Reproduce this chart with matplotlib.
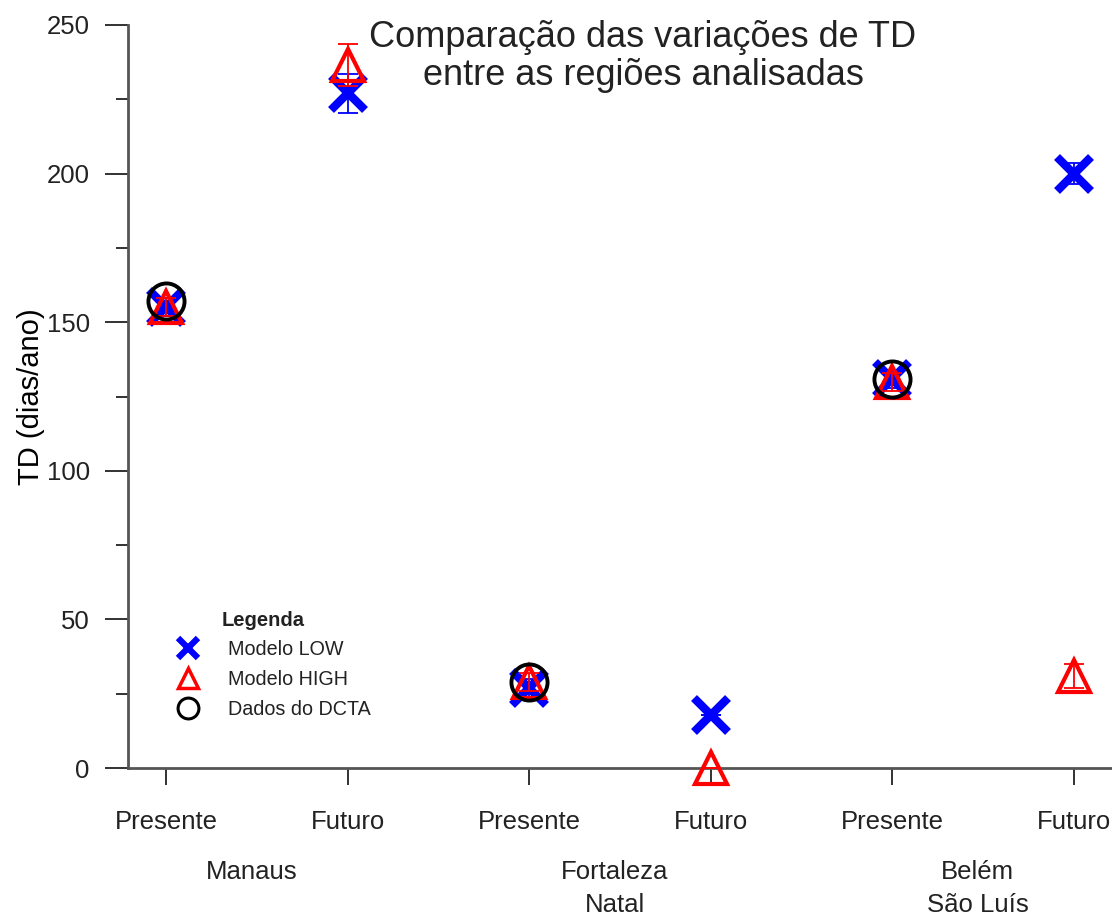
import numpy as np
import matplotlib
matplotlib.use('Agg')
import matplotlib.pyplot as plt
from matplotlib.lines import Line2D
import matplotlib.transforms as mtransforms

plt.rcParams['font.family'] = ['Liberation Sans', 'DejaVu Sans']
plt.rcParams['text.color'] = '#222222'

# dados
categorias = ['Presente', 'Futuro', 'Presente', 'Futuro', 'Presente', 'Futuro']
regioes = ['Manaus', 'Fortaleza\nNatal', 'Belém\nSão Luís']
modelo_low = [155, 227, 27, 18, 131, 200]
erro_low = [3, 6.5, 3, 0, 3, 3.5]
modelo_high = [155, 236.5, 29, 0, 130, 31]
erro_high = [3, 7, 3, 0, 3, 4]
dados_dcta = [157, np.nan, 29, np.nan, 131, np.nan]

x = np.arange(1, len(categorias) + 1)

fig = plt.figure(figsize=(11.12, 9.17), dpi=100)
ax = fig.add_axes([128/1112, 1 - 768/917, 1 - 128/1112, (768 - 25)/917])

# Modelo LOW
ax.plot(x, modelo_low, linestyle='none', marker='x', ms=24, mew=6,
        color='#0000ff', clip_on=False, zorder=3)
ax.errorbar(x, modelo_low, yerr=erro_low, fmt='none', ecolor='#0000ff',
            elinewidth=1.3, capsize=7, capthick=1.3, zorder=4)

# Modelo HIGH
ax.plot(x, modelo_high, linestyle='none', marker='^', ms=23, mew=3,
        color='#ff0000', markerfacecolor='none', clip_on=False, zorder=5)
ax.errorbar(x, modelo_high, yerr=erro_high, fmt='none', ecolor='#ff0000',
            elinewidth=1.3, capsize=7, capthick=1.3, zorder=6)

# Dados do DCTA
ax.plot(x, dados_dcta, linestyle='none', marker='o', ms=26, mew=2.8,
        color='black', markerfacecolor='none', clip_on=False, zorder=7)

ax.set_xlim(0.79, 6.21)
ax.set_ylim(0, 250)
ax.set_xticks(x)
ax.set_xticklabels(categorias)
ax.set_yticks(np.arange(0, 251, 50))
ax.set_yticks(np.arange(25, 250, 50), minor=True)

for s in ['top', 'right']:
    ax.spines[s].set_visible(False)
for s in ['left', 'bottom']:
    ax.spines[s].set_color('#555555')
    ax.spines[s].set_linewidth(2)

ax.tick_params(axis='y', which='major', length=16.5, width=1.3, pad=11,
               labelsize=18.5, colors='#222222')
ax.tick_params(axis='y', which='minor', length=8.5, width=1.3, color='#222222')
ax.tick_params(axis='x', which='major', length=12, width=1.3, pad=18,
               labelsize=18.5, colors='#222222')

ax.set_ylabel('TD (dias/ano)', fontsize=21, labelpad=1.5)

# rótulos das regiões
trans = mtransforms.blended_transform_factory(ax.transData, fig.transFigure)
for i, r in enumerate(regioes):
    ax.text(x[2*i] + 0.47, 1 - 860/917, r, transform=trans, ha='center',
            va='top', fontsize=18.5, linespacing=1.45)

fig.text(643/1112, 1 - 20/917,
         'Comparação das variações de TD\nentre as regiões analisadas',
         ha='center', va='top', fontsize=26, linespacing=1.12)

# legenda
handles = [
    Line2D([], [], linestyle='none', marker='x', ms=14, mew=4.5, color='#0000ff'),
    Line2D([], [], linestyle='none', marker='^', ms=14, mew=2.5, color='#ff0000',
           markerfacecolor='none'),
    Line2D([], [], linestyle='none', marker='o', ms=15, mew=2.2, color='black',
           markerfacecolor='none'),
]
leg = ax.legend(handles, ['Modelo LOW', 'Modelo HIGH', 'Dados do DCTA'],
                loc='upper left', bbox_to_anchor=(172/1112, 1 - 640/917),
                bbox_transform=fig.transFigure, frameon=False, fontsize=14.2,
                borderpad=0, borderaxespad=0, handlelength=1.6,
                handletextpad=1.25, labelspacing=0.55)
fig.text(222/1112, 1 - 620/917, 'Legenda', fontsize=14.5, fontweight='bold',
         ha='left', va='center')

fig.savefig('out.png', dpi=100)
